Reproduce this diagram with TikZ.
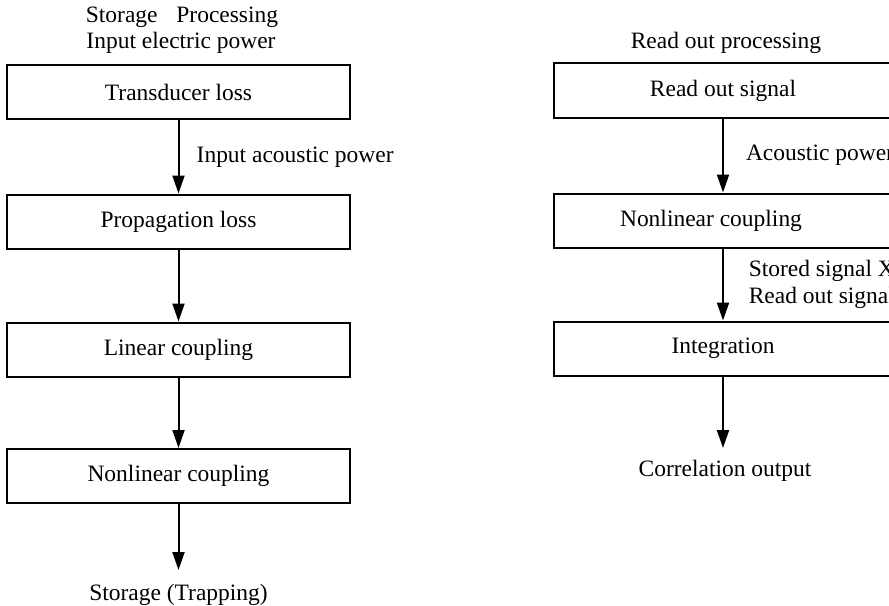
\documentclass[tikz,border=0pt]{standalone}
\usepackage{fontspec}
\setmainfont{Liberation Serif}
\usetikzlibrary{arrows.meta}
\begin{document}
\begin{tikzpicture}[x=0.25mm, y=-0.25mm, font=\fontsize{16.7}{19.2}\selectfont]
\tikzset{kasten/.style={rectangle, draw=black, line width=0.5mm, minimum width=85.75mm, minimum height=13.5mm, inner sep=0pt}}
\tikzset{pfeil/.style={line width=0.5mm, -{Triangle[length=4.5mm, width=3mm]}}}
\tikzset{marke/.style={inner sep=0pt}}
\useasboundingbox (0,0) rectangle (889,606);
\clip (0,0) rectangle (889,606);

% Storage side
\node[marke] at (182, 17) (kopf) {Storage\hspace{0.8em}Processing};
\node[marke] at (181, 42.5) (ein) {Input electric power};
\node[kasten] at (178.5, 92) (a) {Transducer loss};
\node[kasten] at (178.5, 221.5) (b) {Propagation loss};
\node[kasten] at (178.5, 349.5) (c) {Linear coupling};
\node[kasten] at (178.5, 476) (d) {Nonlinear coupling};
\coordinate (ende1) at (178.5, 570);
\node[marke] at (178.5, 595) (speicher) {Storage (Trapping)};
			\draw [pfeil] (a) -- (b) node[marke, midway, right=4.3mm] {Input acoustic power};
			\draw [pfeil] (b) -- (c);
			\draw [pfeil] (c) -- (d);
			\draw [pfeil] (d) -- (ende1);

% Read out side
\node[marke] at (726, 42.5) (lesen) {Read out processing};
\node[kasten, minimum width=84.5mm] at (723, 90.5) (e) {Read out signal};
\node[kasten, minimum width=84.5mm] at (723, 220.5) (f) {\hspace*{-6mm}Nonlinear coupling};
\node[kasten, minimum width=84.5mm] at (723, 348.5) (g) {Integration};
\coordinate (ende2) at (723, 448);
\node[marke] at (725, 471) (korr) {Correlation output};
			\draw [pfeil] (e) -- (f) node[marke, midway, right=5.5mm] {Acoustic power};
			\draw [pfeil] (f) -- (g) node[marke, midway, right=6.2mm, align=left] {Stored signal X\\Read out signal};
			\draw [pfeil] (g) -- (ende2);
\end{tikzpicture}
\end{document}
